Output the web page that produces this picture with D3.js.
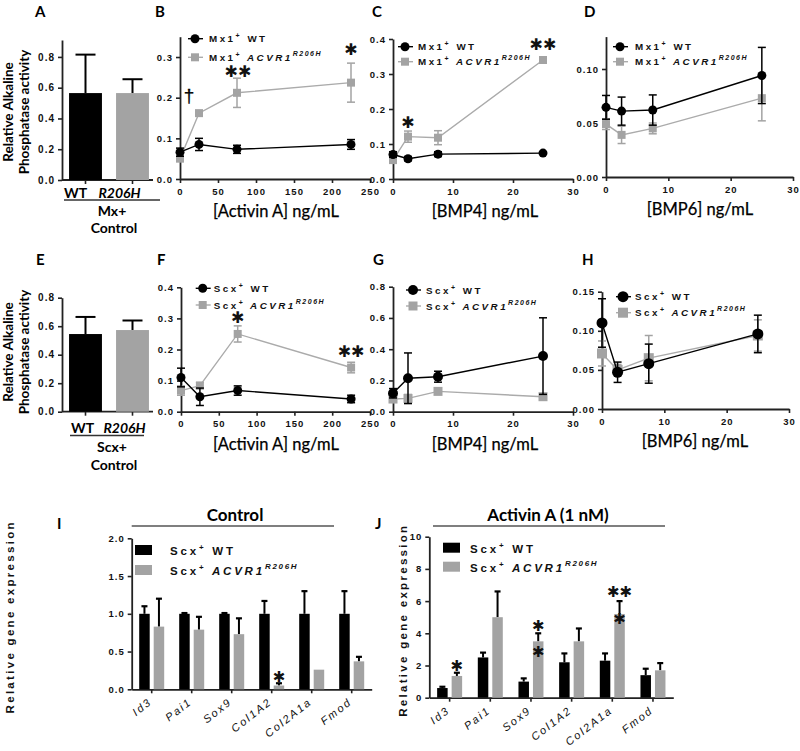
<!DOCTYPE html>
<html><head><meta charset="utf-8">
<script src="https://cdn.jsdelivr.net/npm/d3@7"></script>
<style>
body{margin:0;background:#fff}
svg{display:block}
</style></head><body>
<svg id="c" width="800" height="751"></svg>
<script>
// ---------- DATA ----------
const activinDose = [0, 25, 75, 225];
const bmpDose = [0, 2.5, 7.5, 25];
const activinTicks = [0, 50, 100, 150, 200, 250];
const bmpTicks = [0, 10, 20, 30];

// Panel A / E (bar)
const barCats = ["WT", "R206H"];
const aVals = [0.565, 0.565];
const aErr = [0.25, 0.09];
const eVals = [0.545, 0.573];
const eErr = [0.12, 0.067];

// Panel B (Mx1, Activin A)
const bWT = [0.066, 0.085, 0.073, 0.085];
const bWTerr = [0.01, 0.015, 0.01, 0.012];
const bMut = [0.05, 0.162, 0.212, 0.237];
const bMutErr = [0.006, 0.005, 0.036, 0.048];
// Panel C (Mx1, BMP4)
const cWT = [0.07, 0.058, 0.071, 0.074];
const cWTerr = [0.008, 0.006, 0.007, 0.003];
const cMut = [0.054, 0.121, 0.118, 0.340];
const cMutErr = [0.006, 0.016, 0.02, 0.009];
// Panel D (Mx1, BMP6)
const dWT = [0.0645, 0.061, 0.062, 0.094];
const dWTerr = [0.011, 0.013, 0.014, 0.026];
const dMut = [0.049, 0.039, 0.045, 0.073];
const dMutErr = [0.005, 0.008, 0.005, 0.021];
// Panel F (Scx, Activin A)
const fWT = [0.11, 0.048, 0.068, 0.041];
const fWTerr = [0.03, 0.028, 0.015, 0.012];
const fMut = [0.068, 0.084, 0.25, 0.142];
const fMutErr = [0.015, 0.01, 0.026, 0.017];
// Panel G (Scx, BMP4)
const gWT = [0.118, 0.214, 0.224, 0.356];
const gWTerr = [0.03, 0.162, 0.035, 0.245];
const gMut = [0.081, 0.085, 0.13, 0.096];
const gMutErr = [0.01, 0.025, 0.015, 0.005];
// Panel H (Scx, BMP6)
const hWT = [0.11, 0.047, 0.058, 0.096];
const hWTerr = [0.031, 0.013, 0.025, 0.024];
const hMut = [0.071, 0.05, 0.065, 0.094];
const hMutErr = [0.016, 0.007, 0.029, 0.02];

// Panels I / J (gene expression)
const genes = ["Id3", "Pai1", "Sox9", "Col1A2", "Col2A1a", "Fmod"];
const iWT = [1, 1, 1, 1, 1, 1];
const iWTerr = [0.1, 0.01, 0.01, 0.17, 0.3, 0.3];
const iMut = [0.83, 0.79, 0.73, 0.05, 0.26, 0.37];
const iMutErr = [0.37, 0.17, 0.21, 0.03, 0, 0.06];
const jWT = [0.6, 2.5, 1.0, 2.2, 2.3, 1.4];
const jWTerr = [0.08, 0.3, 0.2, 0.55, 0.45, 0.4];
const jMut = [1.35, 5.0, 3.5, 3.5, 5.2, 1.7];
const jMutErr = [0.2, 1.6, 0.5, 0.8, 0.8, 0.45];

// ---------- STYLE ----------
const svg = d3.select("#c");
const BLACK = "#000";
const GRAY = "#a3a3a3";
const GRAYLINE = "#ababab";
const AXC = "#222";
const TF = "'Liberation Sans', Arial, sans-serif";
const CF = "Lato, 'Open Sans', sans-serif";
const STAR = "\u2731";

function styleAxis(g, fs) {
  g.select(".domain").attr("stroke", AXC).attr("stroke-width", 1.8);
  g.selectAll(".tick line").attr("stroke", AXC).attr("stroke-width", 1.6);
  g.selectAll(".tick text").attr("font-family", TF).attr("font-weight", "bold")
    .attr("font-size", fs || 9.5).attr("letter-spacing", "1px").attr("fill", "#111");
}

function panelLetter(t, x, y) {
  svg.append("text").attr("x", x).attr("y", y).text(t)
    .attr("font-family", CF).attr("font-weight", "bold").attr("font-size", 15);
}

function legendLabel(g, x, y, prefix, mut) {
  const t = g.append("text").attr("x", x).attr("y", y)
    .attr("font-family", TF).attr("font-weight", "bold").attr("font-size", 9.8)
    .attr("letter-spacing", "2.5px").attr("fill", "#111");
  t.append("tspan").text(prefix);
  t.append("tspan").text("+").attr("font-size", 7).attr("dy", -4);
  if (!mut) {
    t.append("tspan").text(" WT").attr("dy", 4);
  } else {
    t.append("tspan").text(" ACVR1").attr("dy", 4).attr("font-style", "italic");
    t.append("tspan").text("R206H").attr("dy", -5).attr("font-style", "italic")
      .attr("font-size", 7).attr("letter-spacing", "1.5px");
  }
}

function star(x, y, n, size) {
  svg.append("text").attr("x", x).attr("y", y).text(STAR.repeat(n))
    .attr("text-anchor", "middle").attr("font-family", "DejaVu Sans")
    .attr("font-size", size || 15).attr("fill", "#111");
}

function linePanel(c) {
  const g = svg.append("g");
  const x = d3.scaleLinear().domain(c.xDom).range(c.xRange);
  const y = d3.scaleLinear().domain(c.yDom).range(c.yRange);
  const ax = g.append("g").attr("transform", `translate(0,${c.yRange[0]})`)
    .call(d3.axisBottom(x).tickValues(c.xTicks).tickSize(4).tickSizeOuter(0).tickPadding(5).tickFormat(d3.format("d")));
  styleAxis(ax);
  const ay = g.append("g").attr("transform", `translate(${c.xRange[0]},0)`)
    .call(d3.axisLeft(y).tickValues(c.yTicks).tickSize(4).tickSizeOuter(0).tickPadding(3).tickFormat(d3.format(c.yFmt)));
  styleAxis(ay);
  g.append("text").attr("x", c.xTitleX).attr("y", c.yRange[0] + 38)
    .attr("text-anchor", "middle").attr("font-family", CF).attr("font-size", 16.5)
    .attr("stroke", "#000").attr("stroke-width", 0.25).text(c.xTitle);

  const series = [
    {v: c.mut, e: c.mutErr, col: GRAY, lc: GRAYLINE, shape: "sq"},
    {v: c.wt, e: c.wtErr, col: BLACK, lc: BLACK, shape: "ci"}
  ];
  const line = d3.line().x((d, i) => x(c.dose[i])).y(d => y(d));
  series.forEach(s => {
    g.append("path").datum(s.v).attr("d", line).attr("fill", "none")
      .attr("stroke", s.lc).attr("stroke-width", 1.4);
    const eb = g.append("g").attr("stroke", s.col).attr("stroke-width", 1.5);
    s.v.forEach((v, i) => {
      const xx = x(c.dose[i]);
      eb.append("line").attr("x1", xx).attr("x2", xx).attr("y1", y(v - s.e[i])).attr("y2", y(v + s.e[i]));
      eb.append("line").attr("x1", xx - 4).attr("x2", xx + 4).attr("y1", y(v - s.e[i])).attr("y2", y(v - s.e[i]));
      eb.append("line").attr("x1", xx - 4).attr("x2", xx + 4).attr("y1", y(v + s.e[i])).attr("y2", y(v + s.e[i]));
    });
    s.v.forEach((v, i) => {
      const xx = x(c.dose[i]), yy = y(v);
      if (s.shape === "sq") {
        const m = c.sq || 8;
        g.append("rect").attr("x", xx - m / 2).attr("y", yy - m / 2).attr("width", m).attr("height", m).attr("fill", s.col);
      } else {
        g.append("circle").attr("cx", xx).attr("cy", yy).attr("r", c.r || 4.5).attr("fill", s.col);
      }
    });
  });
  const lg = g.append("g");
  const [lx, ly1, ly2] = c.legend;
  lg.append("line").attr("x1", lx - 7).attr("x2", lx + 8).attr("y1", ly1).attr("y2", ly1).attr("stroke", BLACK).attr("stroke-width", 1.4);
  lg.append("circle").attr("cx", lx).attr("cy", ly1).attr("r", c.r || 4.5).attr("fill", BLACK);
  lg.append("line").attr("x1", lx - 7).attr("x2", lx + 8).attr("y1", ly2).attr("y2", ly2).attr("stroke", GRAYLINE).attr("stroke-width", 1.4);
  const m = c.sq || 8;
  lg.append("rect").attr("x", lx - m / 2).attr("y", ly2 - m / 2).attr("width", m).attr("height", m).attr("fill", GRAY);
  legendLabel(lg, lx + c.lt, ly1 + 3.5, c.prefix, false);
  legendLabel(lg, lx + c.lt, ly2 + 3.5, c.prefix, true);
  return {x, y};
}

function yTitle2(x1, x2, cy) {
  [["Relative Alkaline", x1], ["Phosphatase activity", x2]].forEach(([t, xx]) => {
    svg.append("text").attr("transform", `translate(${xx},${cy}) rotate(-90)`)
      .attr("text-anchor", "middle").attr("font-family", CF).attr("font-weight", "bold")
      .attr("font-size", 13.5).text(t);
  });
}

function barPanel(c) {
  const g = svg.append("g");
  const x = d3.scaleBand().domain(barCats).range(c.xRange).paddingInner(0.3).paddingOuter(0.15);
  const y = d3.scaleLinear().domain(c.yDom).range(c.yRange);
  const ay = g.append("g").attr("transform", `translate(${c.xRange[0]},0)`)
    .call(d3.axisLeft(y).tickValues([0, 0.2, 0.4, 0.6, 0.8]).tickSize(4).tickSizeOuter(0).tickPadding(3).tickFormat(d3.format(".1f")));
  styleAxis(ay, 10);
  const ax = g.append("g").attr("transform", `translate(0,${c.yRange[0]})`)
    .call(d3.axisBottom(x).tickValues([]).tickSize(4).tickSizeOuter(0));
  ax.select(".domain").attr("stroke", AXC).attr("stroke-width", 1.8)
    .attr("d", `M${c.xRange[0]},0H${c.xRange[1] - 3}`);
  barCats.forEach(k => {
    g.append("line").attr("x1", x(k) + x.bandwidth() / 2).attr("x2", x(k) + x.bandwidth() / 2)
      .attr("y1", c.yRange[0]).attr("y2", c.yRange[0] + 4).attr("stroke", AXC).attr("stroke-width", 1.6);
  });
  const cols = [BLACK, GRAY];
  barCats.forEach((k, i) => {
    const cx = x(k) + x.bandwidth() / 2;
    g.append("line").attr("x1", cx).attr("x2", cx).attr("y1", y(c.vals[i])).attr("y2", y(c.vals[i] + c.err[i]))
      .attr("stroke", BLACK).attr("stroke-width", 2);
    g.append("line").attr("x1", cx - 10).attr("x2", cx + 10).attr("y1", y(c.vals[i] + c.err[i])).attr("y2", y(c.vals[i] + c.err[i]))
      .attr("stroke", BLACK).attr("stroke-width", 2);
    g.append("rect").attr("x", x(k)).attr("y", y(c.vals[i])).attr("width", x.bandwidth())
      .attr("height", y(0) - y(c.vals[i])).attr("fill", cols[i]);
  });
  const lbY = c.yRange[0] + c.lbOff;
  g.append("text").attr("x", x("WT") + x.bandwidth() / 2 + c.wtShift).attr("y", lbY).attr("text-anchor", "middle")
    .attr("font-family", CF).attr("font-weight", "bold").attr("font-size", 14).text("WT");
  g.append("text").attr("x", x("R206H") + x.bandwidth() / 2 + c.mutShift).attr("y", lbY).attr("text-anchor", "middle")
    .attr("font-family", CF).attr("font-weight", "bold").attr("font-style", "italic").attr("font-size", 14).text("R206H");
  g.append("line").attr("x1", c.ul[0]).attr("x2", c.ul[1]).attr("y1", c.ul[2]).attr("y2", c.ul[2])
    .attr("stroke", "#333").attr("stroke-width", 1.5);
  const mid = (c.xRange[0] + c.xRange[1]) / 2 + 3;
  g.append("text").attr("x", mid).attr("y", c.sub[0]).attr("text-anchor", "middle")
    .attr("font-family", CF).attr("font-weight", "bold").attr("font-size", 14).text(c.subText);
  g.append("text").attr("x", mid + 2).attr("y", c.sub[1]).attr("text-anchor", "middle")
    .attr("font-family", CF).attr("font-weight", "bold").attr("font-size", 14).text("Control");
}

function genePanel(c) {
  const g = svg.append("g");
  const x = d3.scaleBand().domain(genes).range(c.xRange).paddingInner(0).paddingOuter(0);
  const y = d3.scaleLinear().domain(c.yDom).range(c.yRange);
  const bw = 10.5, gap = 4;
  const ay = g.append("g").attr("transform", `translate(${c.xRange[0]},0)`)
    .call(d3.axisLeft(y).tickValues(c.yTicks).tickSize(4).tickSizeOuter(0).tickPadding(3).tickFormat(d3.format(c.yFmt)));
  styleAxis(ay, 9.5);
  const ax = g.append("g").attr("transform", `translate(0,${c.yRange[0]})`)
    .call(d3.axisBottom(x).tickSize(4).tickSizeOuter(0).tickFormat(""));
  styleAxis(ax);
  const ser = [{v: c.wt, e: c.wtErr, col: BLACK, off: -gap / 2 - bw}, {v: c.mut, e: c.mutErr, col: GRAY, off: gap / 2}];
  ser.forEach(s => {
    s.v.forEach((v, i) => {
      const cx = x(genes[i]) + x.bandwidth() / 2 + s.off;
      if (s.e[i] > 0) {
        g.append("line").attr("x1", cx + bw / 2).attr("x2", cx + bw / 2).attr("y1", y(v)).attr("y2", y(v + s.e[i]))
          .attr("stroke", BLACK).attr("stroke-width", 2);
        g.append("line").attr("x1", cx + bw / 2 - 3).attr("x2", cx + bw / 2 + 3).attr("y1", y(v + s.e[i])).attr("y2", y(v + s.e[i]))
          .attr("stroke", BLACK).attr("stroke-width", 2.2);
      }
      g.append("rect").attr("x", cx).attr("y", y(v)).attr("width", bw).attr("height", y(0) - y(v)).attr("fill", s.col);
    });
  });
  genes.forEach(gn => {
    const cx = x(gn) + x.bandwidth() / 2 + 1;
    g.append("text").attr("transform", `translate(${cx},${c.yRange[0] + 14}) rotate(-38)`)
      .attr("text-anchor", "end").attr("font-family", TF).attr("font-style", "italic")
      .attr("font-size", 11).attr("letter-spacing", "2px").attr("fill", "#111").text(gn);
  });
  g.append("text").attr("transform", `translate(${c.yTitleX},${(c.yRange[0] + c.yRange[1]) / 2 + 3}) rotate(-90)`)
    .attr("text-anchor", "middle").attr("font-family", TF).attr("font-weight", "bold")
    .attr("font-size", 11.5).attr("letter-spacing", "2.3px").attr("fill", "#111").text("Relative gene expression");
  g.append("text").attr("x", c.title[1]).attr("y", c.title[2]).attr("text-anchor", "middle")
    .attr("font-family", CF).attr("font-weight", "bold").attr("font-size", 17).text(c.title[0]);
  g.append("line").attr("x1", c.tline[0]).attr("x2", c.tline[1]).attr("y1", c.tline[2]).attr("y2", c.tline[2])
    .attr("stroke", "#555").attr("stroke-width", 1.3);
  const [lx, ly1, ly2, tx] = c.legend;
  g.append("rect").attr("x", lx).attr("y", ly1).attr("width", 17).attr("height", 10).attr("fill", BLACK);
  g.append("rect").attr("x", lx).attr("y", ly2).attr("width", 17).attr("height", 10).attr("fill", GRAY);
  [[ly1, false], [ly2, true]].forEach(([ly, mut]) => {
    const t = g.append("text").attr("x", tx).attr("y", ly + 10)
      .attr("font-family", TF).attr("font-weight", "bold").attr("font-size", 11.5)
      .attr("letter-spacing", "2.8px").attr("fill", "#111");
    t.append("tspan").text("Scx");
    t.append("tspan").text("+").attr("font-size", 8).attr("dy", -5);
    if (!mut) t.append("tspan").text(" WT").attr("dy", 5);
    else {
      t.append("tspan").text(" ACVR1").attr("dy", 5).attr("font-style", "italic");
      t.append("tspan").text("R206H").attr("dy", -6).attr("font-style", "italic").attr("font-size", 8).attr("letter-spacing", "1.7px");
    }
  });
  return {x, y, bw, gap};
}

// ---------- PANELS ----------
barPanel({xRange: [62, 156], yDom: [0, 0.91], yRange: [180, 40], vals: aVals, err: aErr,
  lbOff: 18, wtShift: -10, mutShift: -13, ul: [64, 160, 200], sub: [216, 233], subText: "Mx+"});
yTitle2(13, 29, 112);
barPanel({xRange: [62, 156], yDom: [0, 0.8], yRange: [411.7, 297.7], vals: eVals, err: eErr,
  lbOff: 21, wtShift: -3, mutShift: -8, ul: [70, 144, 435.5], sub: [452, 470], subText: "Scx+"});
yTitle2(13, 29, 352);

const pB = linePanel({dose: activinDose, xDom: [0, 250], xRange: [180, 370], xTicks: activinTicks,
  yDom: [0, 0.35], yRange: [179, 36.7], yTicks: [0, 0.1, 0.2, 0.3], yFmt: ".1f",
  wt: bWT, wtErr: bWTerr, mut: bMut, mutErr: bMutErr, xTitle: "[Activin A] ng/mL", xTitleX: 276,
  legend: [195, 38.7, 57.3], lt: 14, prefix: "Mx1"});
svg.append("text").attr("x", pB.x(25) - 10).attr("y", pB.y(0.19)).attr("text-anchor", "middle")
  .attr("font-family", "'Liberation Sans', Arial, sans-serif").attr("font-size", 19)
  .attr("fill", "#000").attr("stroke", "#000").attr("stroke-width", 0.3).text("\u2020");
star(pB.x(75) + 1, pB.y(0.25), 2, 16);
star(pB.x(225), pB.y(0.305), 1, 16);

const pC = linePanel({dose: bmpDose, xDom: [0, 30], xRange: [393, 573], xTicks: bmpTicks,
  yDom: [0, 0.4], yRange: [179, 39], yTicks: [0, 0.1, 0.2, 0.3, 0.4], yFmt: ".1f",
  wt: cWT, wtErr: cWTerr, mut: cMut, mutErr: cMutErr, xTitle: "[BMP4] ng/mL", xTitleX: 485,
  legend: [405, 46.7, 61.7], lt: 13, prefix: "Mx1"});
star(pC.x(2.5), pC.y(0.145), 1, 16);
star(pC.x(25), pC.y(0.37), 2, 16);

linePanel({dose: bmpDose, xDom: [0, 30], xRange: [606, 793], xTicks: bmpTicks,
  yDom: [0, 0.13], yRange: [177, 36.6], yTicks: [0, 0.05, 0.1], yFmt: ".2f",
  wt: dWT, wtErr: dWTerr, mut: dMut, mutErr: dMutErr, xTitle: "[BMP6] ng/mL", xTitleX: 700,
  legend: [620, 46.7, 61.7], lt: 15, prefix: "Mx1"});

const pF = linePanel({dose: activinDose, xDom: [0, 250], xRange: [181, 370], xTicks: activinTicks,
  yDom: [0, 0.4], yRange: [411.7, 287.3], yTicks: [0, 0.1, 0.2, 0.3, 0.4], yFmt: ".1f",
  wt: fWT, wtErr: fWTerr, mut: fMut, mutErr: fMutErr, xTitle: "[Activin A] ng/mL", xTitleX: 276,
  legend: [202.7, 288.3, 305], lt: 11, prefix: "Scx"});
star(pF.x(75), pF.y(0.285), 1, 16);
star(pF.x(225), pF.y(0.175), 2, 16);

linePanel({dose: bmpDose, xDom: [0, 30], xRange: [393, 573], xTicks: bmpTicks,
  yDom: [0, 0.8], yRange: [411.7, 286.7], yTicks: [0, 0.2, 0.4, 0.6, 0.8], yFmt: ".1f",
  wt: gWT, wtErr: gWTerr, mut: gMut, mutErr: gMutErr, xTitle: "[BMP4] ng/mL", xTitleX: 485,
  legend: [413, 290, 306], lt: 13, prefix: "Scx", sq: 9, r: 5});

linePanel({dose: bmpDose, xDom: [0, 30], xRange: [602, 789], xTicks: bmpTicks,
  yDom: [0, 0.15], yRange: [409, 291.7], yTicks: [0, 0.05, 0.1, 0.15], yFmt: ".2f",
  wt: hWT, wtErr: hWTerr, mut: hMut, mutErr: hMutErr, xTitle: "[BMP6] ng/mL", xTitleX: 695,
  legend: [623, 296.7, 312.7], lt: 12, prefix: "Scx", sq: 10, r: 5.5});

const pI = genePanel({xRange: [131.7, 371.7], yDom: [0, 2], yRange: [689.3, 538.3], yTicks: [0, 0.5, 1, 1.5, 2], yFmt: ".1f",
  wt: iWT, wtErr: iWTerr, mut: iMut, mutErr: iMutErr, yTitleX: 14,
  title: ["Control", 235, 521], tline: [131.7, 334, 526], legend: [135, 545, 565, 170]});
star(pI.x("Col1A2") + pI.x.bandwidth() / 2 + pI.gap / 2 + pI.bw / 2, pI.y(0.1), 1, 15);

const pJ = genePanel({xRange: [429.3, 673.3], yDom: [0, 10], yRange: [697.7, 536.7], yTicks: [0, 2, 4, 6, 8, 10], yFmt: "d",
  wt: jWT, wtErr: jWTerr, mut: jMut, mutErr: jMutErr, yTitleX: 407,
  title: ["Activin A (1 nM)", 548, 521], tline: [433, 665, 526], legend: [443, 542.7, 561.7, 470]});
const jm = g => pJ.x(g) + pJ.x.bandwidth() / 2 + pJ.gap / 2 + pJ.bw / 2;
star(jm("Id3"), pJ.y(1.65), 1, 15);
star(jm("Sox9"), pJ.y(4.15), 1, 15);
star(jm("Sox9"), pJ.y(2.5), 1, 15);
star(jm("Col2A1a"), pJ.y(6.25), 2, 15);
star(jm("Col2A1a"), pJ.y(4.6), 1, 15);

panelLetter("A", 35, 17); panelLetter("B", 155, 17); panelLetter("C", 372, 17); panelLetter("D", 584, 17);
panelLetter("E", 36, 265); panelLetter("F", 157, 265); panelLetter("G", 373, 265); panelLetter("H", 582, 265);
panelLetter("I", 57, 529); panelLetter("J", 375, 529);
</script>
</body></html>
